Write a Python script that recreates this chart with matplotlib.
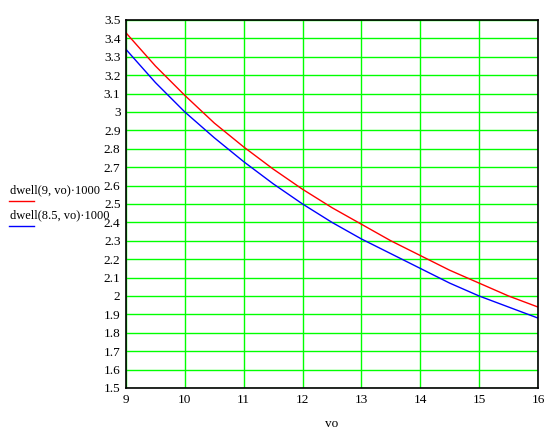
import matplotlib
matplotlib.use("Agg")
import matplotlib.pyplot as plt
from matplotlib.lines import Line2D

plt.rcParams['font.family'] = ['Liberation Serif', 'DejaVu Serif']

vo = [9, 9.5, 10, 10.5, 11, 11.5, 12, 12.5, 13, 13.5, 14, 14.5, 15, 15.5, 16]
red_vals = [3.43, 3.25, 3.09, 2.94, 2.81, 2.69, 2.58, 2.48, 2.39, 2.30, 2.22, 2.14, 2.07, 2.00, 1.94]
blue_vals = [3.34, 3.16, 3.00, 2.86, 2.73, 2.61, 2.50, 2.40, 2.31, 2.23, 2.15, 2.07, 2.00, 1.94, 1.88]
xticks = [9, 10, 11, 12, 13, 14, 15, 16]
yticks = [round(1.5 + 0.1 * i, 1) for i in range(21)]
ytick_labels = ['{:g}'.format(v) for v in yticks]
labels = ['dwell(9, vo)\u00b71000', 'dwell(8.5, vo)\u00b71000']

W, H = 559, 433
fig = plt.figure(figsize=(W / 100, H / 100), dpi=100)
ax = fig.add_axes([126 / W, 1 - 388 / H, (538 - 126) / W, (388 - 20) / H])

ax.plot(vo, red_vals, color='#ff0000', lw=1.0)
ax.plot(vo, blue_vals, color='#0000ff', lw=1.0)

ax.set_xlim(9, 16)
ax.set_ylim(1.5, 3.5)
ax.set_xticks(xticks)
ax.set_xticklabels([str(x) for x in xticks])
ax.set_yticks(yticks)
ax.set_yticklabels(ytick_labels)
ax.grid(True, color='#00ff00', lw=1.0)
ax.set_axisbelow(True)
ax.tick_params(length=0, labelsize=9.5, pad=4)
for s in ax.spines.values():
    s.set_color('black')
    s.set_linewidth(1.2)
    s.set_zorder(5)
ax.set_xlabel('vo', fontsize=9.5, labelpad=9)

# legend at left
fig.text(10 / W, 1 - 190 / H, labels[0], fontsize=9, va='center', ha='left')
fig.add_artist(Line2D([9 / W, 34 / W], [1 - 201 / H, 1 - 201 / H], color='#ff0000', lw=1.0))
fig.text(10 / W, 1 - 215 / H, labels[1], fontsize=9, va='center', ha='left')
fig.add_artist(Line2D([9 / W, 34 / W], [1 - 226 / H, 1 - 226 / H], color='#0000ff', lw=1.0))

fig.savefig('out.png', dpi=100)
